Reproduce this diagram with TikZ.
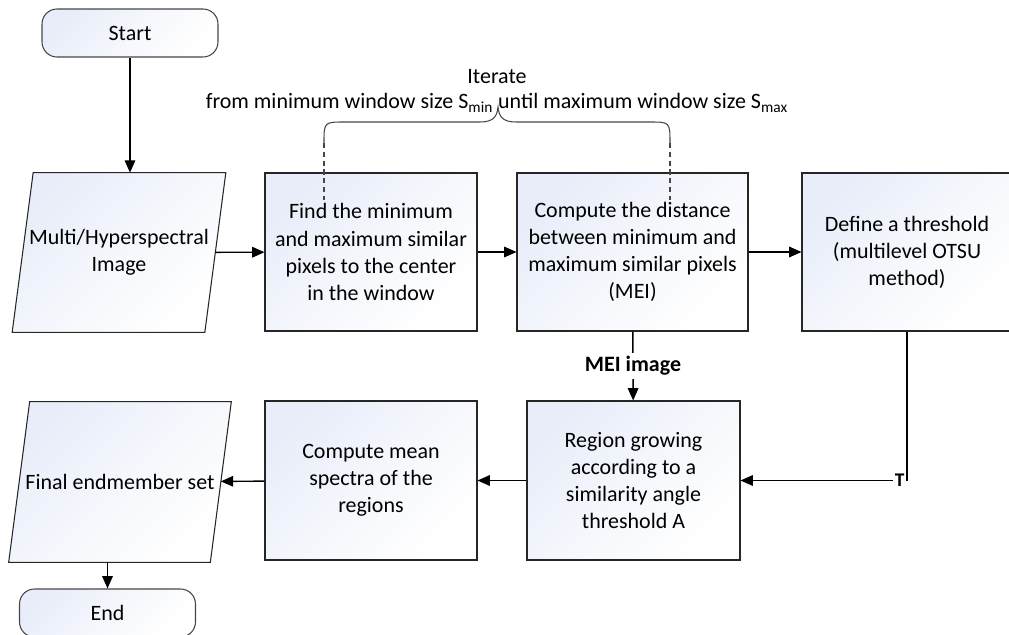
\documentclass[tikz,border=0pt]{standalone}
\usepackage{fontspec}
\setmainfont{Carlito}
\usetikzlibrary{arrows.meta, backgrounds}

\definecolor{boxfill}{RGB}{232,237,249}
\definecolor{edgegray}{RGB}{70,70,70}

\tikzset{
    shadefill/.style={top color=boxfill, bottom color=white, middle color=boxfill!45!white, shading angle=45},
    block/.style={draw=black!85, line width=0.6pt, shadefill,
        align=center, minimum width=4.24cm, minimum height=3.16cm, inner sep=2pt},
    io/.style={align=center, minimum width=3.84cm, minimum height=3.18cm, inner sep=0pt},
    terminal/.style={block, rounded corners=0.3cm, draw=edgegray, minimum width=3.52cm, minimum height=0.96cm},
    arr/.style={-{Triangle[length=7pt, width=6pt]}, line width=0.8pt},
}
\newcommand{\ioshape}[1]{%
    \begin{scope}[on background layer]
        \draw[draw=black!85, line width=0.6pt, shadefill] ([xshift=0.21cm]#1.north west) -- ([xshift=0.21cm]#1.north east)
            -- ([xshift=-0.21cm]#1.south east) -- ([xshift=-0.21cm]#1.south west) -- cycle;
    \end{scope}}

\begin{document}
\begin{tikzpicture}[x=0.02cm, y=-0.02cm, font=\fontsize{12.5}{15.4}\selectfont]
    \useasboundingbox (0,0) rectangle (1009,635);

    \node[terminal] (start) at (130,33) {Start};
    \node[io] (img) at (119,252.5) {Multi/Hyperspectral\\Image};
    \node[block] (find) at (371,252) {Find the minimum\\and maximum similar\\pixels to the center\\in the window};
    \node[block, minimum width=4.62cm] (dist) at (632.5,252) {Compute the distance\\between minimum and\\maximum similar pixels\\(MEI)};
    \node[block, minimum width=4.2cm] (thr) at (907,252) {Define a threshold\\(multilevel OTSU\\method)};
    \node[block, minimum width=4.26cm, minimum height=3.18cm] (region) at (633.5,480.5) {Region growing\\according to a\\similarity angle\\threshold A};
    \node[block, minimum height=3.18cm] (mean) at (371,480.5) {Compute mean\\spectra of the\\regions};
    \node[io, minimum width=4.02cm, minimum height=3.2cm] (final) at (120,482) {Final endmember set};
    \node[terminal] (end) at (107.5,613) {End};
    \ioshape{img}
    \ioshape{final}

    \node (iter) at (497,77) {Iterate};
    \node (range) at (497,103) {from minimum window size S\textsubscript{min} until maximum window size S\textsubscript{max}};

    \draw[edgegray, line width=0.6pt] (324,143) .. controls (324,122) .. (345,122) -- (480,122)
        .. controls (494,122) and (497,116) .. (498,107) .. controls (499,116) and (502,122) .. (516,122)
        -- (649,122) .. controls (670,122) .. (670,143);
    \draw[edgegray, line width=0.6pt, dash pattern=on 3pt off 2pt] (324,143) -- (324,200);
    \draw[edgegray, line width=0.6pt, dash pattern=on 3pt off 2pt] (670,143) -- (670,200);

    \draw[arr] (start.south) -- (start.south |- img.north);
    \draw[arr] (img) -- (find);
    \draw[arr] (find) -- (dist);
    \draw[arr] (dist) -- (thr);
    \draw[arr] (thr.south) |- (region.east) node[pos=0.5, left, fill=white, inner sep=1pt, font=\fontsize{11}{12}\selectfont\bfseries] (tlabel) {T};
    \draw[arr] (dist) -- (region) node[midway, fill=white, inner sep=2pt, font=\fontsize{12.5}{15.4}\selectfont\bfseries] (mei) {MEI image};
    \draw[arr] (region) -- (mean);
    \draw[arr] (mean) -- (final);
    \draw[arr] (end.north |- final.south) -- (end.north);
\end{tikzpicture}
\end{document}
